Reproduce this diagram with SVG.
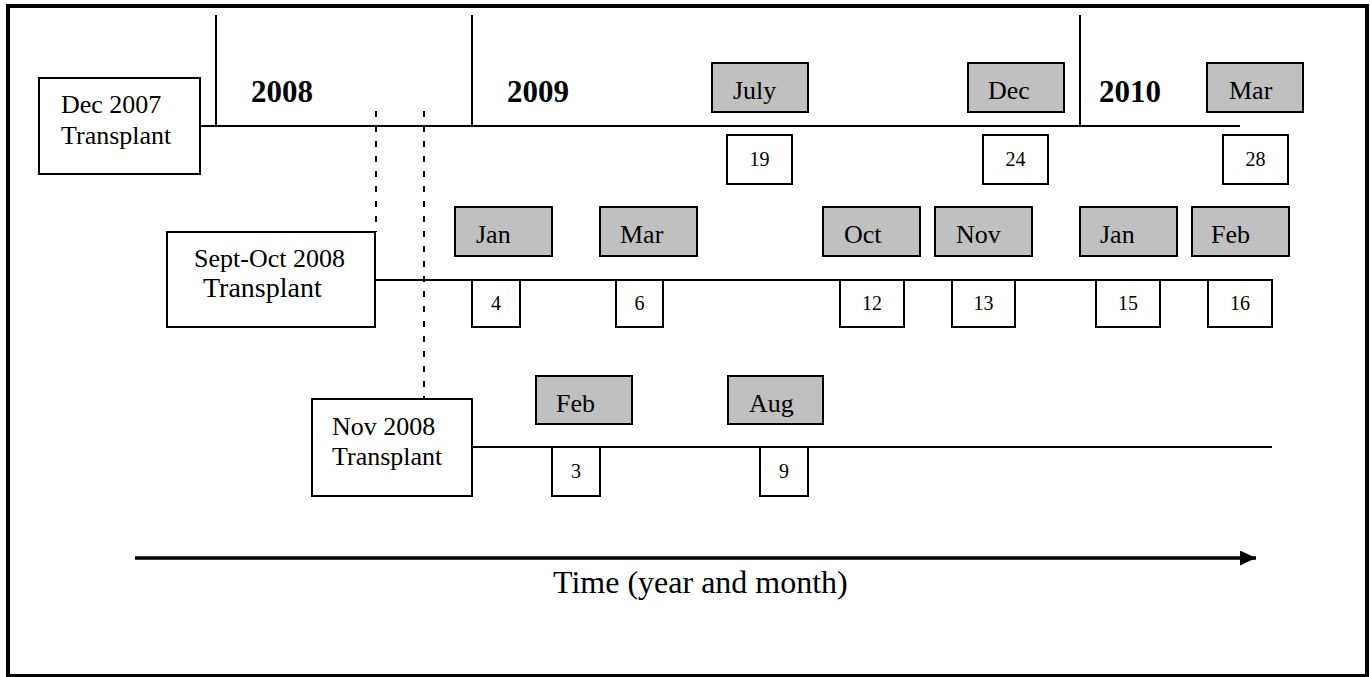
<svg xmlns="http://www.w3.org/2000/svg" width="1371" height="677" viewBox="0 0 1371 677">
<defs>
<style>
text{font-family:"Liberation Serif","Times New Roman",serif;fill:#000}
.box{fill:#fff;stroke:#000;stroke-width:2}
.mon{fill:#c0c0c0;stroke:#000;stroke-width:2}
.num{fill:#fff;stroke:#000;stroke-width:2}
.ln{stroke:#000;stroke-width:2;fill:none}
.dash{stroke:#000;stroke-width:2;stroke-dasharray:6 9;fill:none}
.mt{font-size:26px}
.nt{font-size:20px;text-anchor:middle}
.yr{font-size:31px;font-weight:bold}
.lab{font-size:26px}
</style>
<marker id="ah" viewBox="0 0 16 15" refX="16" refY="7.5" markerWidth="16" markerHeight="15" markerUnits="userSpaceOnUse" orient="auto">
<path d="M0,0 L16,7.5 L0,15 Z" fill="#000"/>
</marker>
</defs>
<rect x="0" y="0" width="1371" height="677" fill="#fff"/>
<rect x="8" y="6" width="1359" height="670" fill="none" stroke="#000" stroke-width="4"/>

<g id="connectors">
<line class="ln" x1="200" y1="126" x2="1240" y2="126"/>
<line class="ln" x1="216" y1="15" x2="216" y2="126"/>
<line class="ln" x1="472" y1="15" x2="472" y2="126"/>
<line class="ln" x1="1080" y1="15" x2="1080" y2="126"/>
<line class="ln" x1="376" y1="280" x2="1272" y2="280"/>
<line class="ln" x1="472" y1="447" x2="1272" y2="447"/>
<line class="dash" x1="376" y1="111" x2="376" y2="232"/>
<line class="dash" x1="424" y1="111" x2="424" y2="399"/>
<line x1="135" y1="558" x2="1256" y2="558" stroke="#000" stroke-width="3.5" marker-end="url(#ah)"/>
</g>

<g id="years">
<text class="yr" x="251" y="102">2008</text>
<text class="yr" x="507" y="102">2009</text>
<text class="yr" x="1099" y="102">2010</text>
</g>

<g id="t-dec2007">
<rect class="box" x="39" y="78" width="161" height="96"/>
<text class="lab" x="61" y="113">Dec 2007</text>
<text class="lab" x="61" y="144">Transplant</text>
</g>
<g id="t-septoct2008">
<rect class="box" x="167" y="232" width="208" height="95"/>
<text class="lab" x="194" y="267">Sept-Oct 2008</text>
<text class="lab" x="203" y="297" style="font-size:28px">Transplant</text>
</g>
<g id="t-nov2008">
<rect class="box" x="312" y="399" width="160" height="97"/>
<text class="lab" x="332" y="435">Nov 2008</text>
<text class="lab" x="332" y="465">Transplant</text>
</g>

<g id="r1-july"><rect class="mon" x="712" y="63" width="96" height="49"/><text class="mt" x="733" y="99">July</text></g>
<g id="r1-dec"><rect class="mon" x="968" y="63" width="96" height="49"/><text class="mt" x="988" y="99">Dec</text></g>
<g id="r1-mar"><rect class="mon" x="1207" y="63" width="96" height="49"/><text class="mt" x="1229" y="99">Mar</text></g>
<g id="r1-19"><rect class="num" x="727" y="135" width="65" height="49"/><text class="nt" x="759.5" y="166">19</text></g>
<g id="r1-24"><rect class="num" x="983" y="135" width="65" height="49"/><text class="nt" x="1015.5" y="166">24</text></g>
<g id="r1-28"><rect class="num" x="1223" y="135" width="65" height="49"/><text class="nt" x="1255.5" y="166">28</text></g>

<g id="r2-jan"><rect class="mon" x="455" y="207" width="97" height="49"/><text class="mt" x="476" y="243">Jan</text></g>
<g id="r2-mar"><rect class="mon" x="600" y="207" width="97" height="49"/><text class="mt" x="620" y="243">Mar</text></g>
<g id="r2-oct"><rect class="mon" x="823" y="207" width="97" height="49"/><text class="mt" x="844" y="243">Oct</text></g>
<g id="r2-nov"><rect class="mon" x="935" y="207" width="97" height="49"/><text class="mt" x="956" y="243">Nov</text></g>
<g id="r2-jan2"><rect class="mon" x="1080" y="207" width="97" height="49"/><text class="mt" x="1100" y="243">Jan</text></g>
<g id="r2-feb"><rect class="mon" x="1192" y="207" width="97" height="49"/><text class="mt" x="1211" y="243">Feb</text></g>
<g id="r2-4"><rect class="num" x="472" y="280" width="48" height="47"/><text class="nt" x="496" y="310">4</text></g>
<g id="r2-6"><rect class="num" x="616" y="280" width="47" height="47"/><text class="nt" x="639.5" y="310">6</text></g>
<g id="r2-12"><rect class="num" x="840" y="280" width="64" height="47"/><text class="nt" x="872" y="310">12</text></g>
<g id="r2-13"><rect class="num" x="952" y="280" width="63" height="47"/><text class="nt" x="983.5" y="310">13</text></g>
<g id="r2-15"><rect class="num" x="1096" y="280" width="64" height="47"/><text class="nt" x="1128" y="310">15</text></g>
<g id="r2-16"><rect class="num" x="1208" y="280" width="64" height="47"/><text class="nt" x="1240" y="310">16</text></g>

<g id="r3-feb"><rect class="mon" x="536" y="376" width="96" height="48"/><text class="mt" x="556" y="412">Feb</text></g>
<g id="r3-aug"><rect class="mon" x="728" y="376" width="95" height="48"/><text class="mt" x="749" y="412">Aug</text></g>
<g id="r3-3"><rect class="num" x="552" y="447" width="48" height="49"/><text class="nt" x="576" y="478">3</text></g>
<g id="r3-9"><rect class="num" x="760" y="447" width="48" height="49"/><text class="nt" x="784" y="478">9</text></g>

<g id="axis-label">
<text x="553" y="593" style="font-size:32px">Time (year and month)</text>
</g>
</svg>
